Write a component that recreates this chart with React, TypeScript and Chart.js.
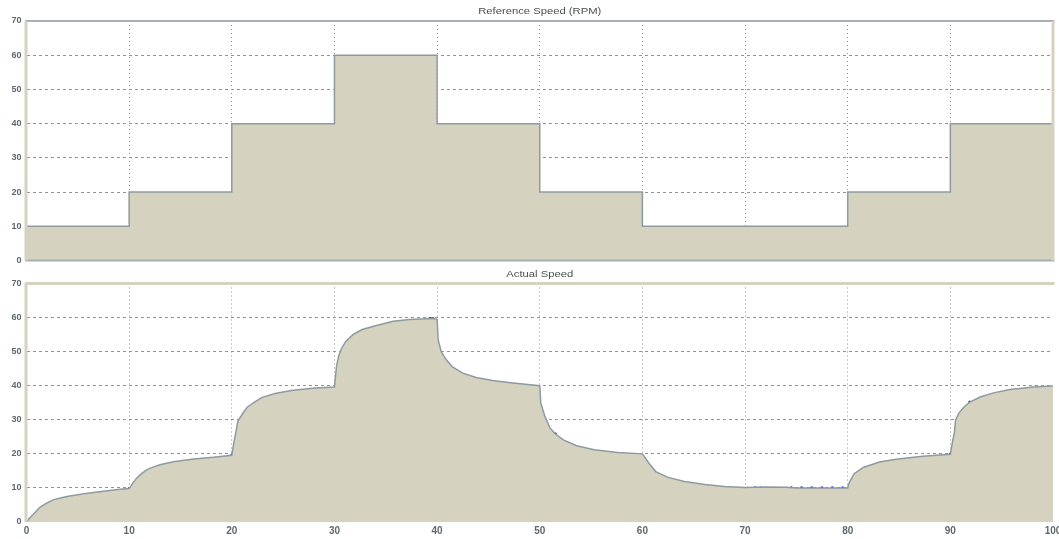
import React, { useEffect, useRef } from "react";
import { Chart, registerables } from "chart.js";

Chart.register(...registerables);

// ---- Data ----
const refTime = [0, 10, 20, 30, 40, 50, 60, 70, 80, 90, 100];
const refSpeed = [10, 20, 40, 60, 40, 20, 10, 10, 20, 40, 40];

const actualTime = [
  0, 0.3, 0.65, 1.3, 2.0, 2.6, 3.4, 4.2, 5.0, 5.8, 6.7, 7.5, 8.3, 9.1, 10,
  10.3, 10.7, 11.2, 11.7, 12.3, 13.0, 14.3, 16.3, 18.2, 20,
  20.2, 20.4, 20.6, 21.1, 21.5, 22.1, 22.9, 24.2, 25.8, 28.1, 30,
  30.2, 30.4, 30.7, 31.1, 31.8, 32.7, 34.0, 35.7, 37.3, 39.6, 40,
  40.1, 40.4, 40.9, 41.5, 42.5, 43.8, 45.4, 47.4, 50,
  50.1, 50.5, 51.0, 51.5, 52.3, 53.6, 55.3, 57.6, 60,
  60.2, 60.7, 61.3, 62.5, 64.1, 66.1, 68.0, 70, 72, 74, 75, 80,
  80.1, 80.6, 81.5, 83.1, 84.7, 87.3, 90,
  90.2, 90.4, 90.5, 90.8, 91.3, 91.9, 92.9, 94.2, 95.8, 98.1, 100,
];
const actualSpeed = [
  0, 1.2, 2.2, 4.3, 5.6, 6.5, 7.1, 7.6, 8.0, 8.4, 8.7, 9.0, 9.3, 9.6, 9.8,
  11.2, 12.8, 14.2, 15.3, 16.1, 16.8, 17.7, 18.5, 19.0, 19.6,
  23.4, 26.4, 29.7, 32.0, 33.7, 35.0, 36.5, 37.7, 38.6, 39.3, 39.6,
  45.7, 48.6, 51.0, 53.0, 55.0, 56.5, 57.6, 58.9, 59.4, 59.7, 59.5,
  53.5, 50.0, 47.6, 45.5, 43.7, 42.4, 41.5, 40.8, 40.0,
  34.9, 31.0, 27.6, 25.9, 24.1, 22.4, 21.2, 20.4, 20.0,
  19.2, 17.0, 14.8, 13.1, 11.9, 11.0, 10.4, 10.1, 10.3, 10.2, 10.0, 10.0,
  11.2, 14.1, 16.0, 17.6, 18.4, 19.3, 19.9,
  23.4, 26.4, 29.8, 31.8, 33.7, 35.2, 36.7, 37.9, 38.9, 39.6, 39.9,
];

const markerTime = [0, 10, 20, 39.3, 39.6, 51.5, 71, 71.5, 74.5, 75.5, 76.5, 77.5, 78.5, 79.5, 90, 91.9];
const markerSpeed = [0, 9.8, 19.6, 59.7, 59.7, 25.9, 10, 10, 10, 10, 10, 10, 10, 10, 19.9, 35.2];

const yTickValues = [0, 10, 20, 30, 40, 50, 60, 70];
const xTickValues = [0, 10, 20, 30, 40, 50, 60, 70, 80, 90, 100];

const topTitle = "Reference Speed (RPM)";
const bottomTitle = "Actual Speed";

// ---- Styles ----
const FILL = "#d5d2bf";
const LINE = "#8e9aa1";
const GRID = "#8c9598";
const GREY_BORDER = "#a8b0b4";
const TICK_COLOR = "#5f686d";

const framePlugin = {
  id: "frame",
  afterDraw(chart: any, _args: any, opts: any) {
    const { ctx, chartArea: a } = chart;
    const edges = opts.edges || {};
    ctx.save();
    const drawEdge = (e: any, x1: number, y1: number, x2: number, y2: number) => {
      if (!e) return;
      ctx.beginPath();
      ctx.strokeStyle = e.color;
      ctx.lineWidth = e.width;
      ctx.setLineDash([]);
      ctx.moveTo(x1, y1);
      ctx.lineTo(x2, y2);
      ctx.stroke();
    };
    drawEdge(edges.top, a.left - 1.5, a.top, a.right + 1.5, a.top);
    drawEdge(edges.bottom, a.left - 1.5, a.bottom, a.right + 1.5, a.bottom);
    drawEdge(edges.left, a.left - 0.5, a.top, a.left - 0.5, a.bottom);
    drawEdge(edges.right, a.right, a.top, a.right, a.bottom);
    if (opts.title) {
      ctx.fillStyle = "#4a4f52";
      ctx.font = "9px 'Liberation Sans', Arial, sans-serif";
      ctx.textAlign = "center";
      ctx.textBaseline = "middle";
      const cx = (a.left + a.right) / 2;
      ctx.translate(cx, opts.titleY);
      ctx.scale(1.25, 1);
      ctx.fillText(opts.title, 0, 0);
    }
    ctx.restore();
  },
};

function gridColor(edgeValues: number[]) {
  return (c: any) =>
    c.tick && edgeValues.includes(c.tick.value) ? "rgba(0,0,0,0)" : GRID;
}

function makeOptions(opts: {
  showXTicks: boolean;
  padding: any;
  xHeight: number;
  edges: any;
  title: string;
  titleY: number;
}) {
  return {
    responsive: false,
    animation: false as const,
    layout: { padding: opts.padding },
    plugins: {
      legend: { display: false },
      tooltip: { enabled: false },
      title: { display: false },
      frame: { edges: opts.edges, title: opts.title, titleY: opts.titleY },
    },
    scales: {
      x: {
        type: "linear" as const,
        min: 0,
        max: 100,
        z: 1,
        afterBuildTicks: (s: any) => {
          s.ticks = xTickValues.map((v) => ({ value: v }));
        },
        afterFit: (s: any) => {
          s.height = opts.xHeight;
          s.paddingLeft = 0;
          s.paddingRight = 0;
        },
        ticks: {
          display: opts.showXTicks,
          autoSkip: false,
          maxRotation: 0,
          padding: 3,
          color: TICK_COLOR,
          font: { family: "'Liberation Sans', Arial, sans-serif", size: 10, weight: "bold" as const },
        },
        grid: { color: gridColor([0, 100]), lineWidth: 1, drawTicks: false },
        border: { display: false, dash: [1, 3] },
      },
      y: {
        type: "linear" as const,
        min: 0,
        max: 70,
        z: 1,
        afterBuildTicks: (s: any) => {
          s.ticks = yTickValues.map((v) => ({ value: v }));
        },
        afterFit: (s: any) => {
          s.width = 26.5;
          s.paddingTop = 0;
          s.paddingBottom = 0;
        },
        ticks: {
          padding: 5,
          color: TICK_COLOR,
          font: { family: "'Liberation Sans', Arial, sans-serif", size: 9, weight: "bold" as const },
        },
        grid: { color: gridColor([0, 70]), lineWidth: 1, drawTicks: false },
        border: { display: false, dash: [3, 3] },
      },
    },
  };
}

export default function App() {
  const topRef = useRef<HTMLCanvasElement>(null);
  const bottomRef = useRef<HTMLCanvasElement>(null);

  useEffect(() => {
    const top = new Chart(topRef.current as HTMLCanvasElement, {
      type: "line",
      data: {
        datasets: [
          {
            data: refTime.map((t, i) => ({ x: t, y: refSpeed[i] })),
            stepped: "before",
            borderColor: LINE,
            borderWidth: 1.5,
            backgroundColor: FILL,
            fill: "origin",
            pointRadius: 0,
          },
        ],
      },
      options: makeOptions({
        showXTicks: false,
        padding: { left: 0, right: 6, top: 21, bottom: 3.5 },
        xHeight: 0,
        edges: {
          top: { color: GREY_BORDER, width: 2 },
          bottom: { color: GREY_BORDER, width: 2 },
          left: { color: FILL, width: 3 },
          right: { color: FILL, width: 3 },
        },
        title: topTitle,
        titleY: 12,
      }) as any,
      plugins: [framePlugin],
    });

    const bottom = new Chart(bottomRef.current as HTMLCanvasElement, {
      type: "line",
      data: {
        datasets: [
          {
            data: actualTime.map((t, i) => ({ x: t, y: actualSpeed[i] })),
            borderColor: LINE,
            borderWidth: 1.5,
            backgroundColor: FILL,
            fill: "origin",
            pointRadius: 0,
            tension: 0,
          },
          {
            data: markerTime.map((t, i) => ({ x: t, y: markerSpeed[i] })),
            showLine: false,
            pointRadius: 1.6,
            pointBorderWidth: 0,
            pointBackgroundColor: "#2233dd",
            borderColor: "#2233dd",
            fill: false,
          },
        ],
      },
      options: makeOptions({
        showXTicks: true,
        padding: { left: 0, right: 6, top: 19.5, bottom: 0 },
        xHeight: 17,
        edges: {
          top: { color: FILL, width: 3 },
          left: { color: FILL, width: 3 },
        },
        title: bottomTitle,
        titleY: 11,
      }) as any,
      plugins: [framePlugin],
    });

    return () => {
      top.destroy();
      bottom.destroy();
    };
  }, []);

  return (
    <div
      style={{
        position: "fixed",
        left: 0,
        top: 0,
        width: 1059,
        height: 539,
        background: "#ffffff",
        overflow: "hidden",
      }}
    >
      <canvas ref={topRef} width={1059} height={264} style={{ display: "block", width: 1059, height: 264 }} />
      <canvas ref={bottomRef} width={1059} height={275} style={{ display: "block", width: 1059, height: 275 }} />
    </div>
  );
}
